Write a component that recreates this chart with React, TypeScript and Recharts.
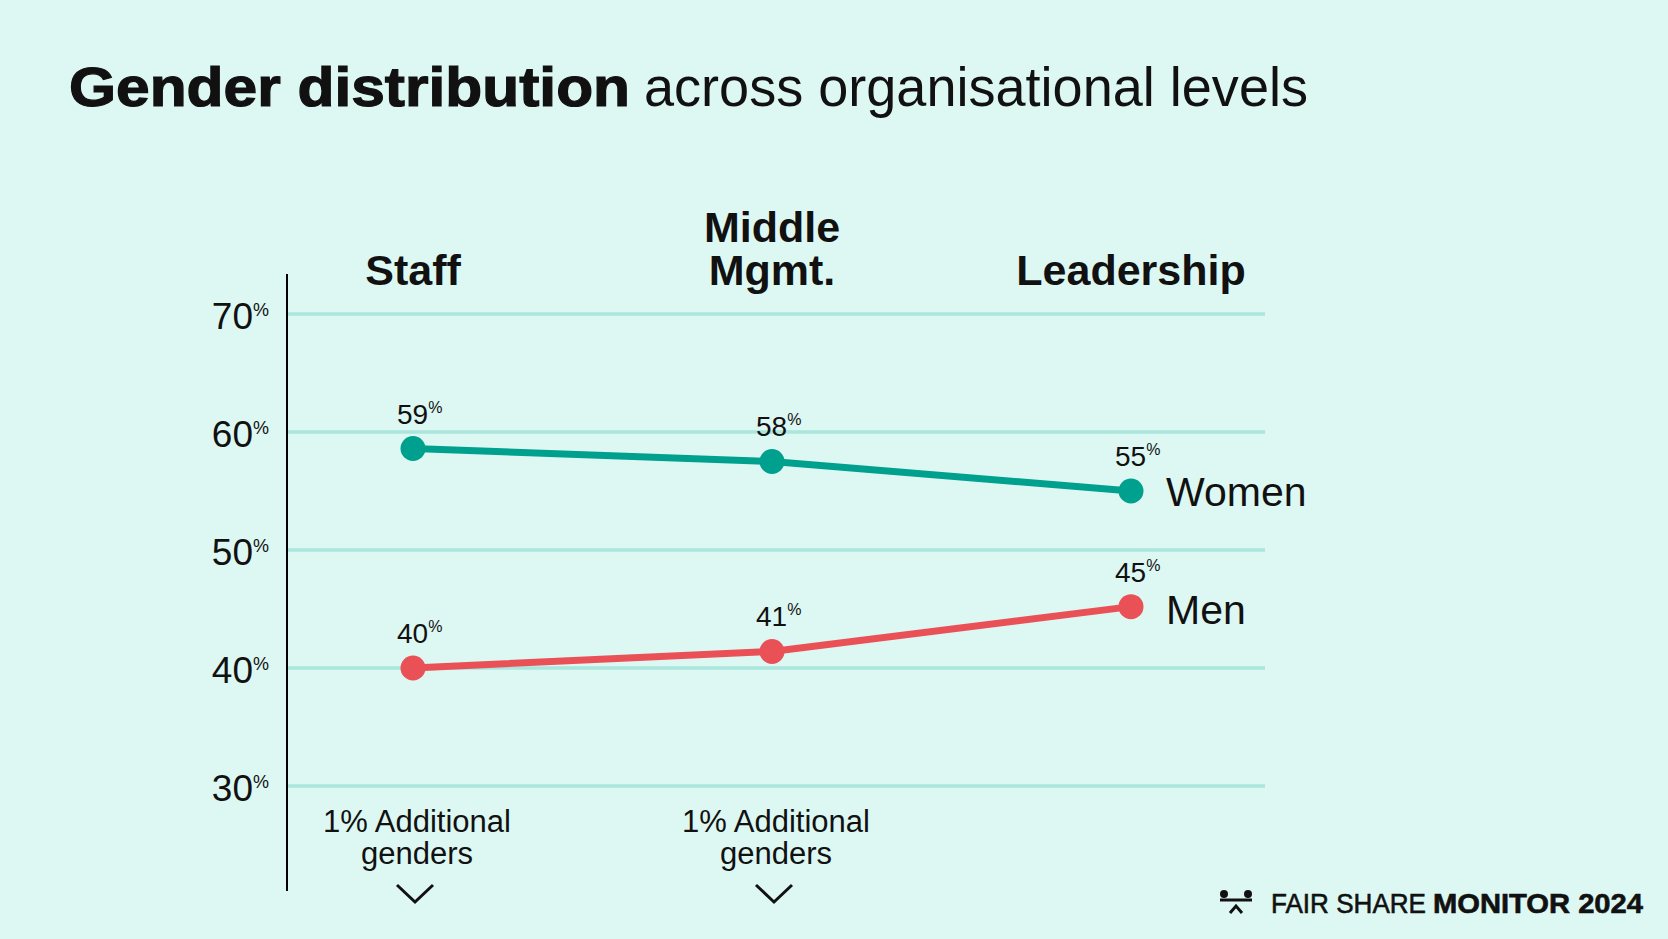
import React from "react";
import { LineChart, Line, XAxis, YAxis, ReferenceLine } from "recharts";

// ---- data ----
const levels = ["Staff", "Middle Mgmt.", "Leadership"];
const levelTitleLines = [["Staff"], ["Middle", "Mgmt."], ["Leadership"]];
const women = [58.6, 57.5, 55.0];
const men = [40.0, 41.4, 45.2];
const notes = [["1% Additional", "genders"], ["1% Additional", "genders"], []];
const yTicks = [30, 40, 50, 60, 70];
const seriesNames = ["Women", "Men"];

const data = levels.map((level, i) => ({ level, women: women[i], men: men[i] }));

const FONT = "'Liberation Sans', Arial, sans-serif";
const BG = "#DDF8F3";
const GRID = "#A9E6DC";
const TEAL = "#00A08F";
const RED = "#EA5156";
const INK = "#111111";

const TopTick = (props: any) => {
  const { x, y, payload, index } = props;
  const i = payload && typeof payload.index === "number" ? payload.index : index;
  const lines = levelTitleLines[i] || [payload.value];
  const n = lines.length;
  return (
    <g>
      {lines.map((t: string, k: number) => (
        <text
          key={k}
          x={x}
          y={y + 11 - (n - 1 - k) * 43}
          textAnchor="middle"
          fontFamily={FONT}
          fontWeight={700}
          fontSize={43}
          fill={INK}
        >
          {t}
        </text>
      ))}
    </g>
  );
};

const BottomTick = (props: any) => {
  const { x, y, payload, index } = props;
  const i = payload && typeof payload.index === "number" ? payload.index : index;
  const lines = notes[i] || [];
  if (!lines.length) return <g />;
  return (
    <g>
      <text x={x + 4} y={y - 59} textAnchor="middle" fontFamily={FONT} fontSize={31} fill={INK}>
        {lines[0]}
      </text>
      <text x={x + 4} y={y - 27} textAnchor="middle" fontFamily={FONT} fontSize={31} fill={INK}>
        {lines[1]}
      </text>
      <polyline
        points={`${x - 16},${y - 6} ${x + 2},${y + 11} ${x + 20},${y - 6}`}
        fill="none"
        stroke={INK}
        strokeWidth={3}
      />
    </g>
  );
};

const YTick = (props: any) => {
  const { x, y, payload } = props;
  return (
    <text x={x - 18} y={y + 15} textAnchor="end" fontFamily={FONT} fontSize={37} fill={INK}>
      {payload.value}
      <tspan fontSize={18} dy={-13}>%</tspan>
    </text>
  );
};

const makeLabel = (name: string, nameDy: number) => (props: any) => {
  const { x, y, value, index } = props;
  const last = index === levels.length - 1;
  return (
    <g key={`${name}-${index}`}>
      <text x={x - 16} y={y - 25} fontFamily={FONT} fontSize={28} fill={INK}>
        {Math.round(value)}
        <tspan fontSize={16} dy={-11}>%</tspan>
      </text>
      {last && (
        <text x={x + 35} y={y + nameDy} fontFamily={FONT} fontSize={41} fill={INK}>
          {name}
        </text>
      )}
    </g>
  );
};

export default function App() {
  return (
    <div
      style={{
        position: "absolute",
        left: 0,
        top: 0,
        width: 1668,
        height: 939,
        background: BG,
        overflow: "hidden",
      }}
    >
      <LineChart
        width={1668}
        height={939}
        data={data}
        margin={{ top: 0, right: 403, bottom: 0, left: 0 }}
      >
        <XAxis
          xAxisId="top"
          dataKey="level"
          orientation="top"
          height={274}
          padding={{ left: 126, right: 134 }}
          axisLine={false}
          tickLine={false}
          tickSize={0}
          tickMargin={0}
          interval={0}
          tick={<TopTick />}
        />
        <XAxis
          xAxisId="bottom"
          dataKey="level"
          orientation="bottom"
          height={48}
          padding={{ left: 126, right: 134 }}
          axisLine={false}
          tickLine={false}
          tickSize={0}
          tickMargin={0}
          interval={0}
          tick={<BottomTick />}
        />
        <YAxis
          yAxisId="main"
          width={287}
          type="number"
          domain={[21.1, 73.39]}
          ticks={yTicks}
          allowDataOverflow
          axisLine={{ stroke: "#000", strokeWidth: 2 }}
          tickLine={false}
          tickSize={0}
          tickMargin={0}
          tick={<YTick />}
        />
        {yTicks.map((t) => (
          <ReferenceLine
            key={t}
            xAxisId="top"
            yAxisId="main"
            y={t}
            stroke={GRID}
            strokeWidth={3.5}
          />
        ))}
        <Line
          xAxisId="top"
          yAxisId="main"
          dataKey="women"
          stroke={TEAL}
          strokeWidth={7}
          dot={{ r: 12.5, fill: TEAL, stroke: "none" }}
          activeDot={false}
          isAnimationActive={false}
          label={makeLabel(seriesNames[0], 15)}
        />
        <Line
          xAxisId="top"
          yAxisId="main"
          dataKey="men"
          stroke={RED}
          strokeWidth={7}
          dot={{ r: 12.5, fill: RED, stroke: "none" }}
          activeDot={false}
          isAnimationActive={false}
          label={makeLabel(seriesNames[1], 17)}
        />
      </LineChart>

      <svg
        width={1668}
        height={939}
        style={{ position: "absolute", left: 0, top: 0, pointerEvents: "none" }}
      >
        <text
          x={69}
          y={106}
          fontFamily={FONT}
          fontWeight={700}
          fontSize={56}
          fill={INK}
          stroke={INK}
          strokeWidth={1.2}
          textLength={561}
          lengthAdjust="spacingAndGlyphs"
        >
          Gender distribution
        </text>
        <text
          x={644}
          y={106}
          fontFamily={FONT}
          fontSize={56}
          fill={INK}
          textLength={664}
          lengthAdjust="spacingAndGlyphs"
        >
          across organisational levels
        </text>

        {/* footer logo */}
        <circle cx={1224} cy={894} r={4} fill={INK} />
        <circle cx={1248} cy={894} r={4} fill={INK} />
        <line x1={1220} y1={900} x2={1252} y2={900} stroke={INK} strokeWidth={3} />
        <polyline points="1230,913 1236,906 1242,913" fill="none" stroke={INK} strokeWidth={3} />
        <text
          x={1271}
          y={913}
          fontFamily={FONT}
          fontSize={28}
          fill={INK}
          stroke={INK}
          strokeWidth={0.6}
          textLength={155}
          lengthAdjust="spacingAndGlyphs"
        >
          FAIR SHARE
        </text>
        <text
          x={1433}
          y={913}
          fontFamily={FONT}
          fontWeight={700}
          fontSize={28}
          fill={INK}
          stroke={INK}
          strokeWidth={0.6}
          textLength={210}
          lengthAdjust="spacingAndGlyphs"
        >
          MONITOR 2024
        </text>
      </svg>
    </div>
  );
}
